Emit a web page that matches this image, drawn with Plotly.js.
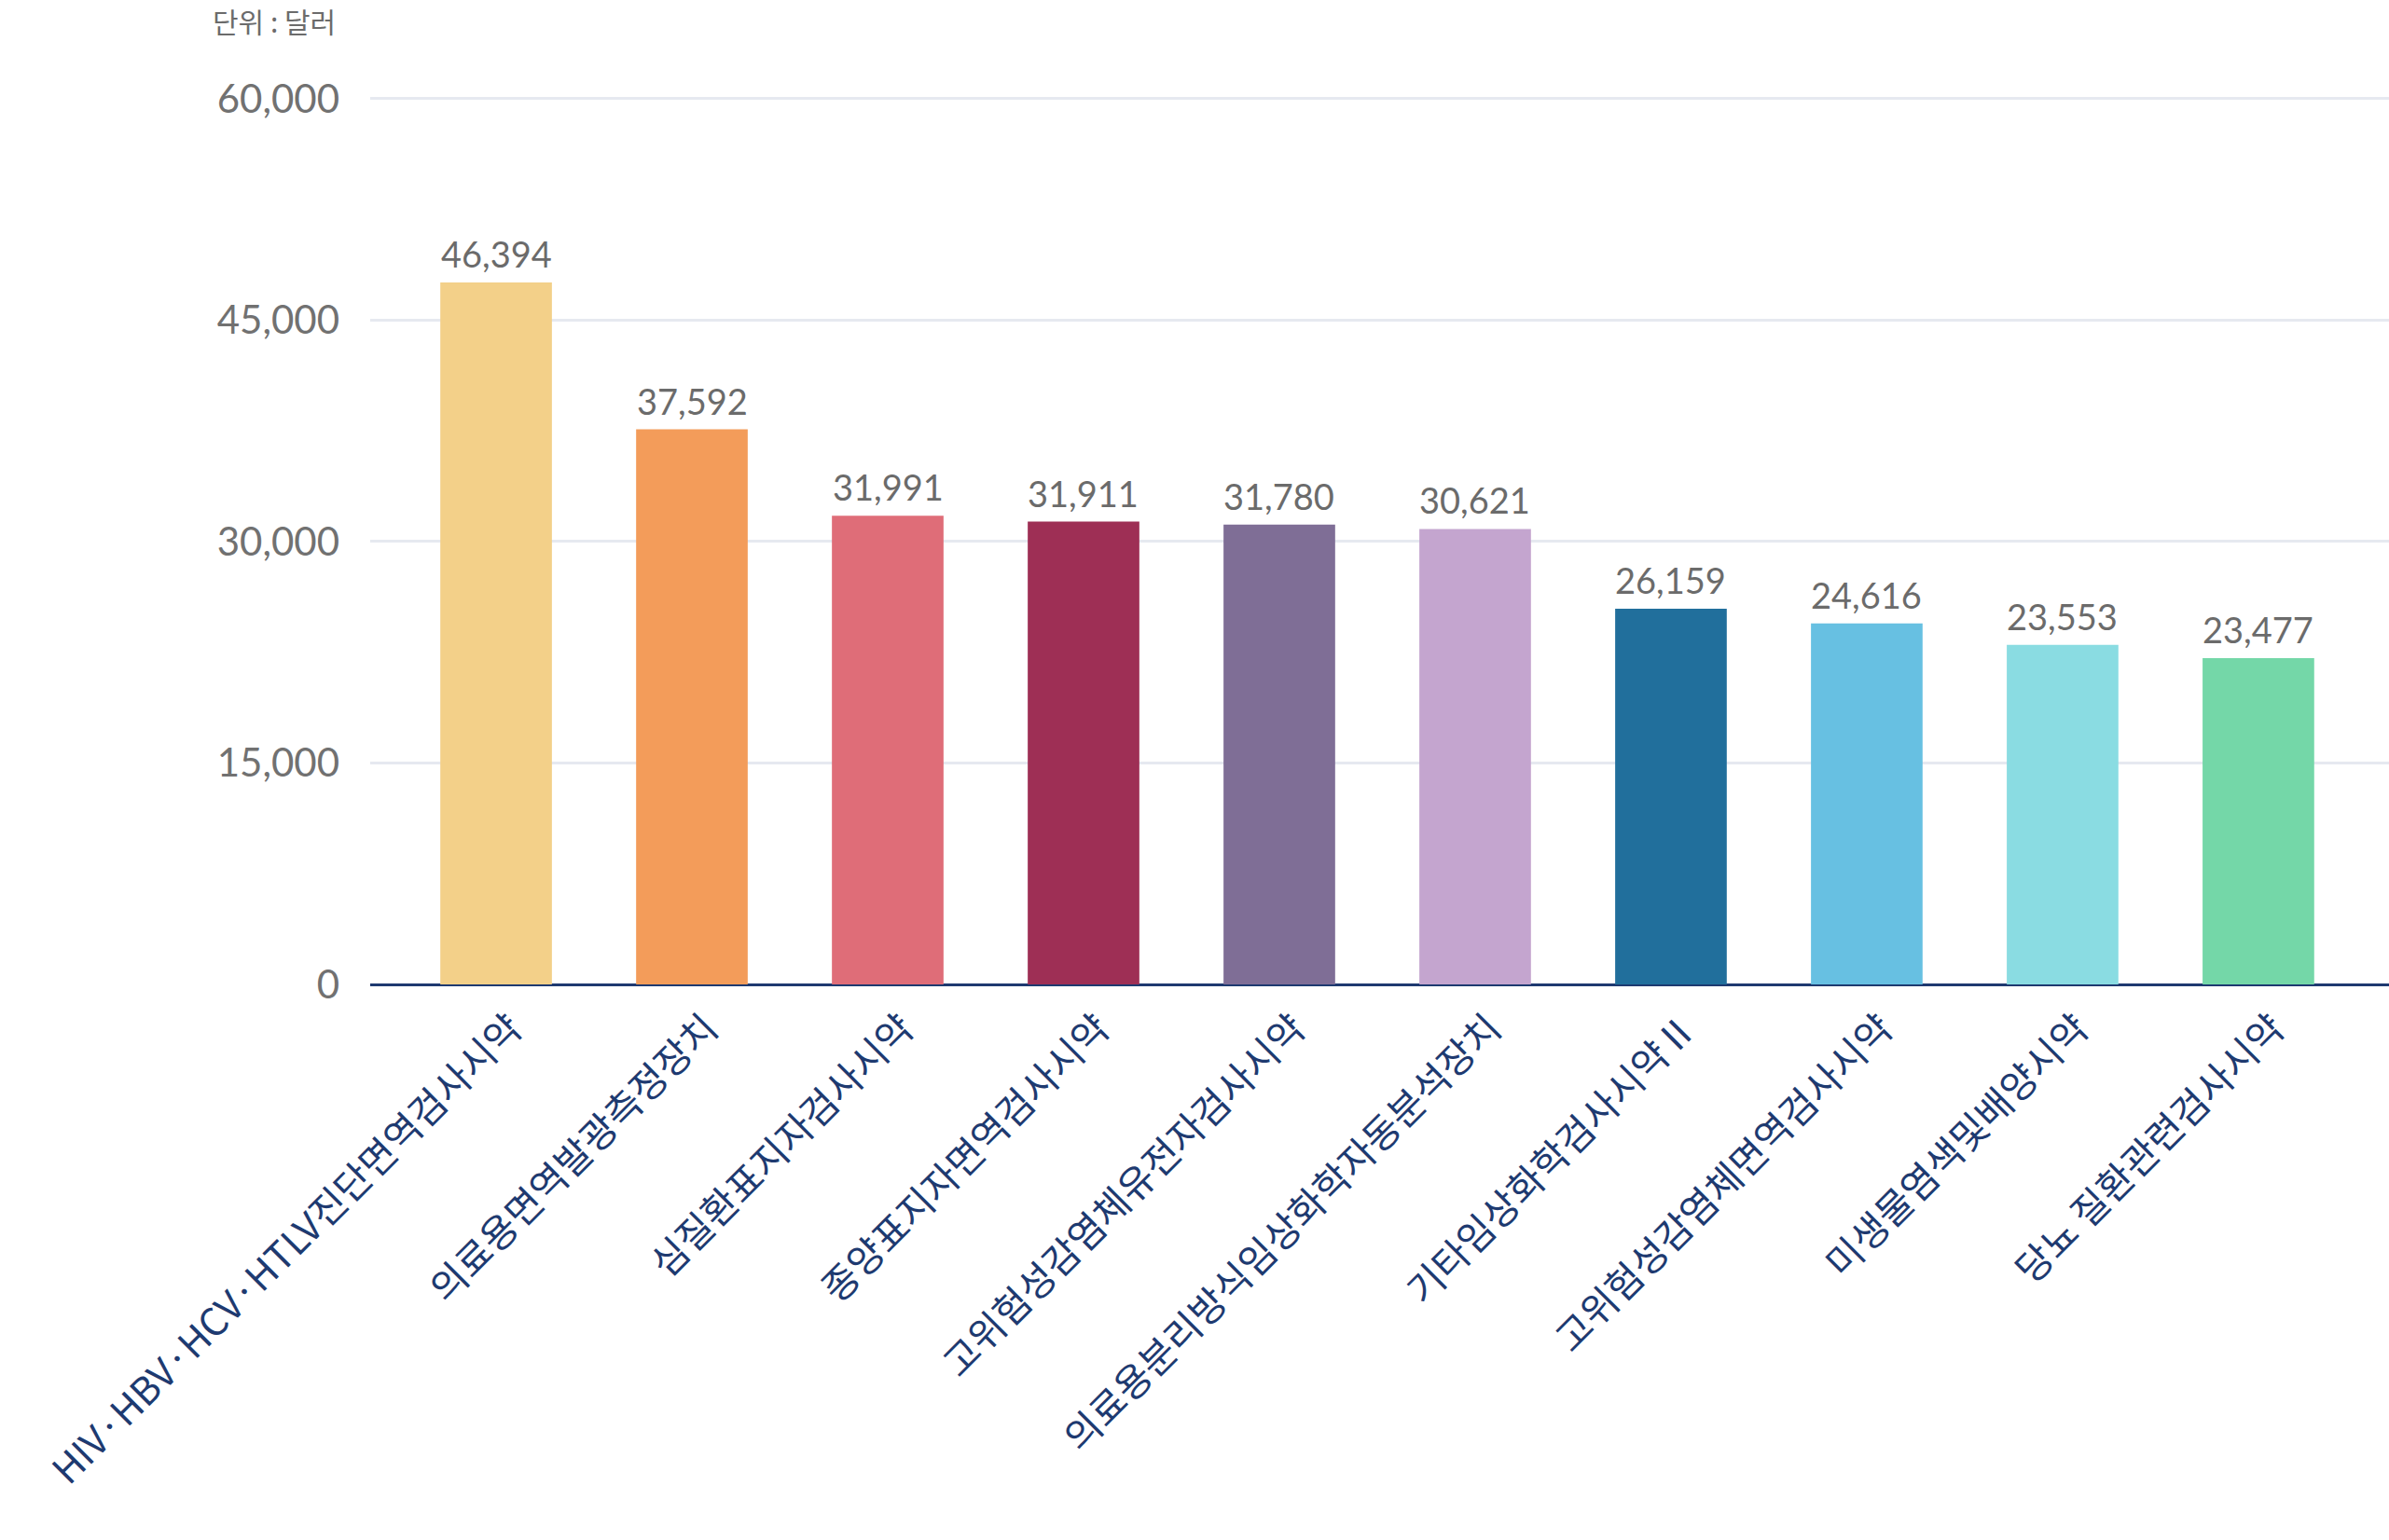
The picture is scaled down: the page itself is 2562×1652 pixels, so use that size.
<!DOCTYPE html>
<html>
<head>
<meta charset="utf-8">
<script src="https://cdn.plot.ly/plotly-3.0.1.min.js"></script>
<style>
html,body{margin:0;padding:0;background:#fff;}
#chart{width:2562px;height:1652px;}
</style>
</head>
<body>
<div id="chart"></div>
<script>
// Categories (x axis)
const categories = [
  "HIV·HBV·HCV·HTLV진단면역검사시약",
  "의료용면역발광측정장치",
  "심질환표지자검사시약",
  "종양표지자면역검사시약",
  "고위험성감염체유전자검사시약",
  "의료용분리방식임상화학자동분석장치",
  "기타임상화학검사시약Ⅱ",
  "고위험성감염체면역검사시약",
  "미생물염색및배양시약",
  "당뇨 질환관련검사시약"
];
// Bar heights as drawn in the picture (USD)
const barValues = [47550, 37600, 31750, 31350, 31150, 30850, 25450, 24450, 23000, 22100];
// Value labels printed above the bars
const valueLabels = ["46,394", "37,592", "31,991", "31,911", "31,780", "30,621", "26,159", "24,616", "23,553", "23,477"];
// Bar colours
const barColors = ["#F3D089", "#F39C5A", "#DF6D78", "#9E2F55", "#7F6E96", "#C4A5CF", "#216F9C", "#67C0E2", "#8ADCE2", "#74D7A8"];
// Y axis ticks
const yTicks = [0, 15000, 30000, 45000, 60000];
const unitText = "단위 : 달러";

const fontFam = "Lato, 'Noto Sans CJK KR', sans-serif";
const korFam = "'Noto Sans CJK KR', Lato, sans-serif";

const trace = {
  type: "bar",
  x: categories,
  y: barValues,
  marker: {color: barColors, line: {width: 0}},
  hoverinfo: "none",
  width: 0.57
};

const annotations = categories.map((c, i) => ({
  x: c, y: barValues[i], xref: "x", yref: "y",
  text: valueLabels[i], showarrow: false,
  yanchor: "bottom", yshift: 6,
  font: {family: fontFam, size: 38, color: "#6b6b6b"}
}));
annotations.push({
  xref: "paper", yref: "paper", x: -0.0162, y: 1.0955,
  xanchor: "right", yanchor: "top", showarrow: false,
  text: unitText,
  font: {family: korFam, size: 30, color: "#6b6b6b"}
});

const layout = {
  width: 2562, height: 1652,
  margin: {l: 397, r: 0, t: 90, b: 595.5},
  paper_bgcolor: "#ffffff", plot_bgcolor: "#ffffff",
  showlegend: false,
  xaxis: {
    type: "category",
    range: [-0.643, 9.667],
    tickangle: -45,
    tickfont: {family: korFam, size: 41, color: "#1E3A70"},
    showgrid: false, zeroline: false, showline: false,
    ticks: "", ticklabelstandoff: 14, ticklabelshift: 16,
    fixedrange: true
  },
  yaxis: {
    range: [0, 61000],
    tickvals: yTicks,
    tickformat: ",",
    tickfont: {family: fontFam, size: 42, color: "#717171"},
    showgrid: true, gridcolor: "#E6E9F0", gridwidth: 3,
    zeroline: true, zerolinecolor: "#1E3A70", zerolinewidth: 3,
    showline: false, ticks: "", ticklabelstandoff: 32,
    fixedrange: true
  },
  annotations: annotations
};

Plotly.newPlot("chart", [trace], layout, {staticPlot: true, displayModeBar: false});
</script>
</body>
</html>
